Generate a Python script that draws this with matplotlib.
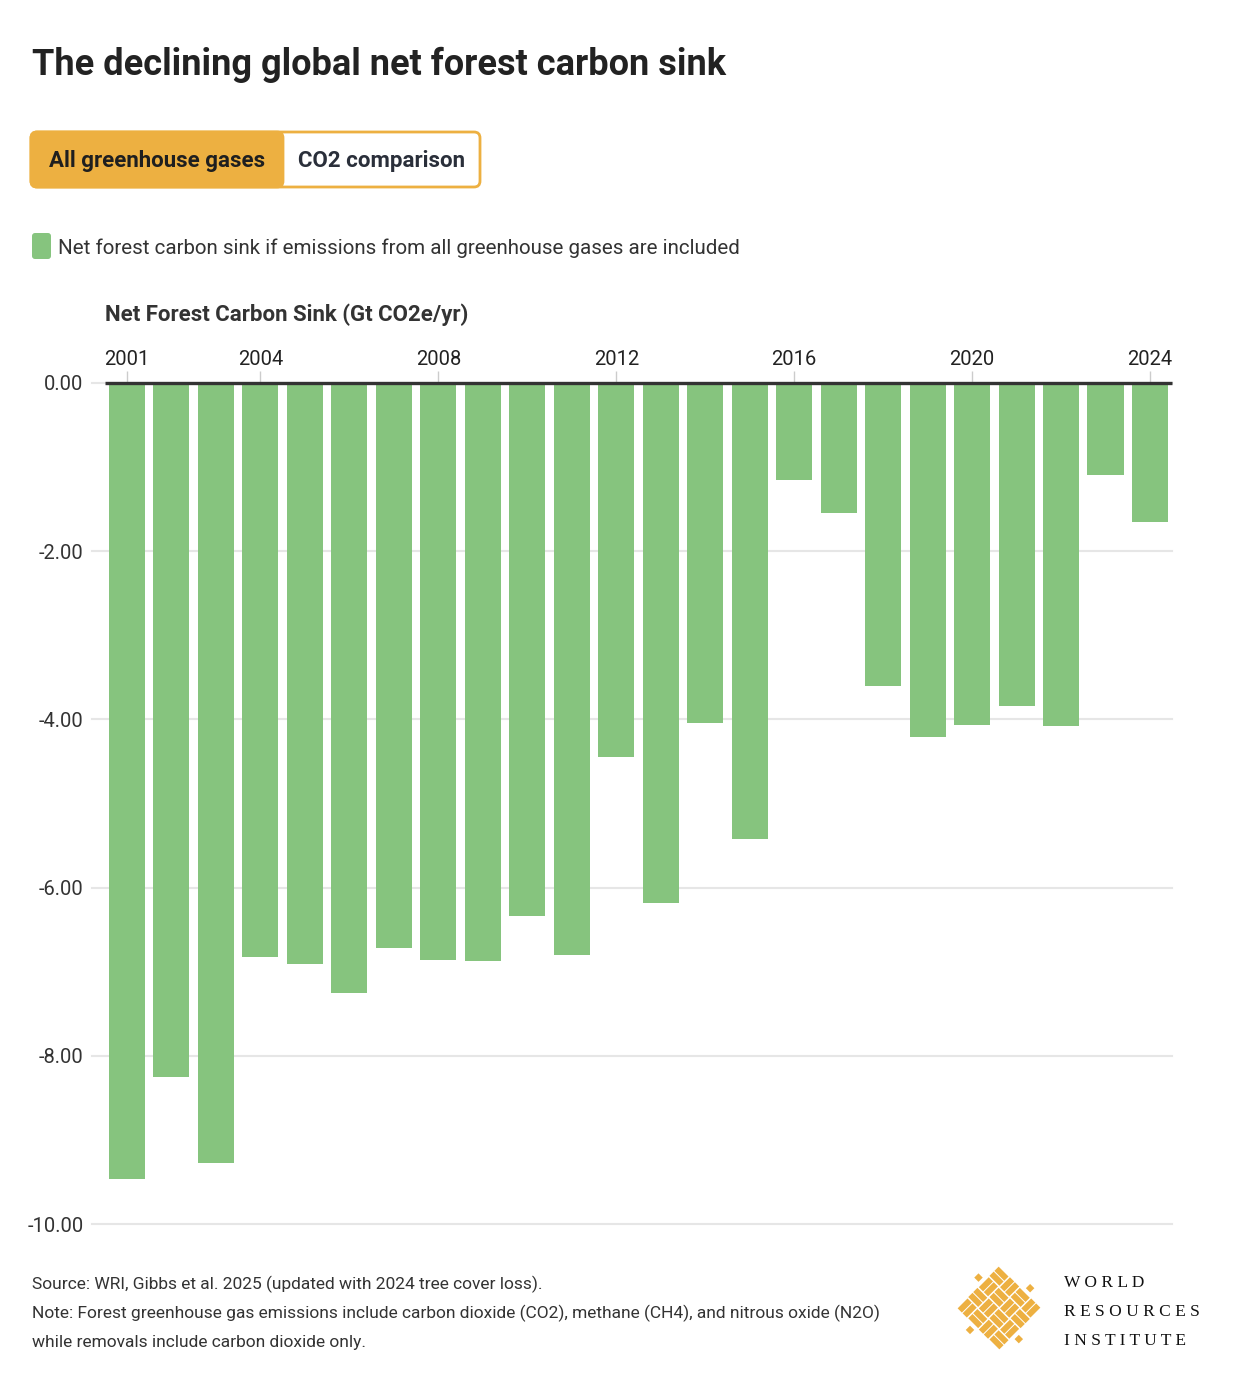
import matplotlib
matplotlib.use("Agg")
import matplotlib.pyplot as plt
from matplotlib.patches import FancyBboxPatch, Rectangle
from matplotlib.transforms import Affine2D

# data (Gt CO2e/yr)
years = list(range(2001, 2025))
net_sink = [-9.46, -8.25, -9.27, -6.83, -6.91, -7.25, -6.72, -6.86, -6.87, -6.34,
            -6.80, -4.45, -6.18, -4.04, -5.42, -1.15, -1.55, -3.60, -4.21, -4.07,
            -3.84, -4.08, -1.09, -1.65]
tick_years = [2001, 2004, 2008, 2012, 2016, 2020, 2024]
y_ticks = [0, -2, -4, -6, -8, -10]
y_labels = ["0.00", "-2.00", "-4.00", "-6.00", "-8.00", "-10.00"]

GREEN = "#86C47E"
ORANGE = "#EDB041"

plt.rcParams["font.family"] = ["Roboto", "DejaVu Sans"]

fig = plt.figure(figsize=(12.5, 14), dpi=100)

# pixel canvas for the furniture around the chart
canvas = fig.add_axes([0, 0, 1, 1])
canvas.set_xlim(0, 1250)
canvas.set_ylim(1400, 0)
canvas.axis("off")

canvas.text(32, 75, "The declining global net forest carbon sink", fontsize=26,
            fontweight="bold", color="#222222", va="baseline")

# toggle buttons
canvas.add_patch(FancyBboxPatch((31, 132), 449, 55, boxstyle="round,pad=0,rounding_size=6",
                                facecolor="white", edgecolor=ORANGE, lw=2))
canvas.add_patch(FancyBboxPatch((31, 132), 252, 55, boxstyle="round,pad=0,rounding_size=6",
                                facecolor=ORANGE, edgecolor=ORANGE, lw=2))
canvas.add_patch(Rectangle((260, 133), 23, 53, facecolor=ORANGE, edgecolor="none"))
canvas.text(157, 167, "All greenhouse gases", fontsize=16, fontweight="bold",
            color="#1f1f1f", ha="center", va="baseline")
canvas.text(381, 167, "CO2 comparison", fontsize=16, fontweight="bold",
            color="#2a2f3a", ha="center", va="baseline")

# legend
canvas.add_patch(FancyBboxPatch((32, 233), 19, 26, boxstyle="round,pad=0,rounding_size=3",
                                facecolor=GREEN, edgecolor="none"))
canvas.text(58, 254, "Net forest carbon sink if emissions from all greenhouse gases are included",
            fontsize=14.8, color="#333333", va="baseline")

canvas.text(105, 321, "Net Forest Carbon Sink (Gt CO2e/yr)", fontsize=16,
            fontweight="bold", color="#333333", va="baseline")

# footer
footer = ["Source: WRI, Gibbs et al. 2025 (updated with 2024 tree cover loss).",
          "Note: Forest greenhouse gas emissions include carbon dioxide (CO2), methane (CH4), and nitrous oxide (N2O)",
          "while removals include carbon dioxide only."]
for i, line in enumerate(footer):
    canvas.text(32, 1289 + 29 * i, line, fontsize=12.5, color="#333333", va="baseline")

# WRI logo mark: a woven diamond
cx, cy = 999, 1308
rot = Affine2D().rotate_deg(45).translate(cx, cy) + canvas.transData
cell = 15
for i in range(4):
    for j in range(4):
        x0 = -30 + i * cell
        y0 = -30 + j * cell
        if (i + j) % 2 == 0:
            for k in range(2):
                canvas.add_patch(Rectangle((x0 + 0.5, y0 + 1 + k * 7), 14, 6,
                                           facecolor=ORANGE, edgecolor="none", transform=rot))
        else:
            for k in range(2):
                canvas.add_patch(Rectangle((x0 + 1 + k * 7, y0 + 0.5), 6, 14,
                                           facecolor=ORANGE, edgecolor="none", transform=rot))
for (u, v) in [(-39, -10), (33, 5), (-8, 33), (5, -39)]:
    canvas.add_patch(Rectangle((u, v), 6, 6, facecolor=ORANGE, edgecolor="none", transform=rot))

for i, word in enumerate(["WORLD", "RESOURCES", "INSTITUTE"]):
    canvas.text(1064, 1287 + 29 * i, " ".join(word), fontsize=12.5,
                family=["Liberation Serif", "DejaVu Serif"], color="#111111", va="baseline")

# main chart
ax = fig.add_axes([92 / 1250, 1 - 1224 / 1400, 1080 / 1250, 841 / 1400])
ax.patch.set_visible(False)
ax.bar(years, net_sink, width=0.81, color=GREEN, zorder=2)
for v in y_ticks:
    ax.axhline(v, color="#e6e6e6", lw=1.5, zorder=0, clip_on=False)
ax.hlines(0, 2000.5, 2024.5, color="#333333", lw=2.4, zorder=3, clip_on=False)

ax.set_xlim(2000.213, 2024.495)
ax.set_ylim(-10, 0)
for s in ax.spines.values():
    s.set_visible(False)

ax.xaxis.tick_top()
ax.set_xticks(tick_years)
ax.set_xticklabels([str(y) for y in tick_years])
ax.tick_params(axis="x", length=8.6, width=1, color="#cccccc", pad=1.5,
               labelsize=14.5, labelcolor="#222222")
ax.set_yticks(y_ticks)
ax.set_yticklabels(y_labels)
ax.tick_params(axis="y", length=0, pad=6, labelsize=14.5, labelcolor="#333333")

fig.savefig("out.png", dpi=100, facecolor="white")
